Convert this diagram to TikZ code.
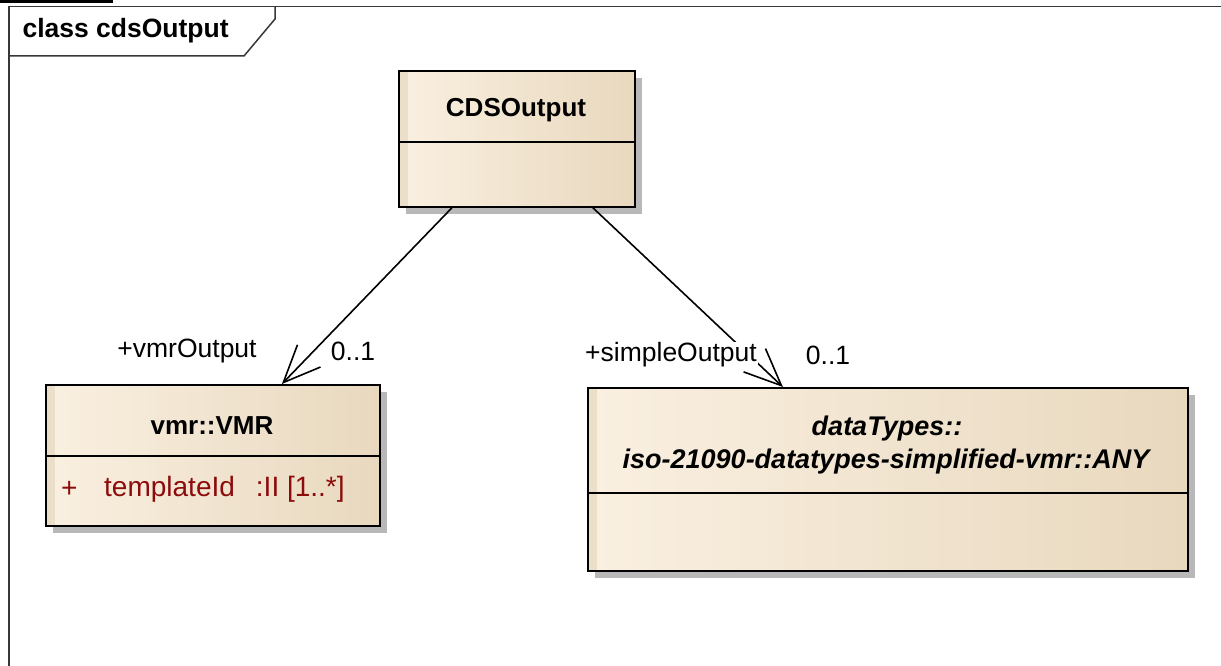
\documentclass[tikz,border=0pt]{standalone}
\usepackage{fontspec}
\setmainfont{Liberation Sans}
\usetikzlibrary{arrows.meta,shadows}

\definecolor{umlLight}{RGB}{250,240,225}
\definecolor{umlDark}{RGB}{232,216,190}
\definecolor{umlStrip}{RGB}{236,223,202}
\definecolor{umlAttr}{RGB}{140,12,12}
\definecolor{umlFrame}{RGB}{55,55,55}

\newcommand{\labelfont}{\fontsize{26.5}{30}\selectfont}
\newcommand{\namefont}{\fontsize{26}{30}\selectfont\bfseries}

\tikzset{
  umlclass/.style={draw=black, line width=1.8pt, anchor=north west, inner sep=0pt,
    left color=umlLight, middle color=umlLight!70!umlDark, right color=umlDark,
    drop shadow={shadow xshift=7pt, shadow yshift=-7pt, fill=black!28, opacity=1},
    path picture={\fill[umlStrip] (path picture bounding box.north west)
      rectangle ([xshift=9pt]path picture bounding box.south west);}},
  divider/.style={line width=1.8pt},
  assoc/.style={line width=1.6pt, line join=round,
    -{Straight Barb[length=37pt, width=32pt, line width=1.6pt]}},
  role/.style={fill=white, inner sep=1pt, font=\labelfont},
  attr/.style={text=umlAttr, anchor=west, inner sep=0pt, font=\fontsize{28}{32}\selectfont},
  clsname/.style={font=\namefont},
  abstractname/.style={font=\fontsize{27}{31}\selectfont\bfseries\itshape},
  frameline/.style={line width=1.5pt, draw=umlFrame}
}

\begin{document}
\begin{tikzpicture}[x=1pt, y=-1pt]
  \useasboundingbox (0,0) rectangle (1221,666);
  \fill (0,0) rectangle (113,3.5);

  % frame and its tab
  \draw[frameline] (1221,6.5) -- (9,6.5) -- (9,666);
  \draw[frameline] (9,56) -- (244,56) -- (275,19) -- (275,6.5);
  \node[anchor=west, font=\fontsize{26.5}{30}\selectfont\bfseries] (title) at (19,31) {class cdsOutput};

  % classes
  \node[umlclass, minimum width=236pt, minimum height=136pt] (cds) at (398,70) {};
  \draw[divider] (cds.west |- 0,142) -- (cds.east |- 0,142);
  \node[clsname] (cdsname) at (516,110) {CDSOutput};

  \node[umlclass, minimum width=334pt, minimum height=141pt] (vmr) at (45,384) {};
  \draw[divider] (vmr.west |- 0,456) -- (vmr.east |- 0,456);
  \node[clsname] (vmrname) at (212,426) {vmr::VMR};
  \node[attr] (vmrvis) at (61,489) {+};
  \node[attr] (vmrattr) at (104,489) {templateId\hspace{21pt}:II [1..*]};

  \node[umlclass, minimum width=600pt, minimum height=183pt] (any) at (587,387) {};
  \draw[divider] (any.west |- 0,493) -- (any.east |- 0,493);
  \node[abstractname] (anyname) at (887,429) {dataTypes::};
  \node[abstractname] (anyname2) at (886,462) {iso-21090-datatypes-simplified-vmr::ANY};

  % associations
  \draw[assoc] ([xshift=-65pt]cds.south) -- ([xshift=69pt]vmr.north);
  \draw[assoc] ([xshift=76pt]cds.south) -- ([xshift=-105pt]any.north);

  \node[role] (vmrrole) at (187,351) {+vmrOutput};
  \node[role] (vmrmult) at (353,351) {0..1};
  \node[role] (simplerole) at (671,355) {+simpleOutput};
  \node[role] (simplemult) at (828,355) {0..1};
\end{tikzpicture}
\end{document}
